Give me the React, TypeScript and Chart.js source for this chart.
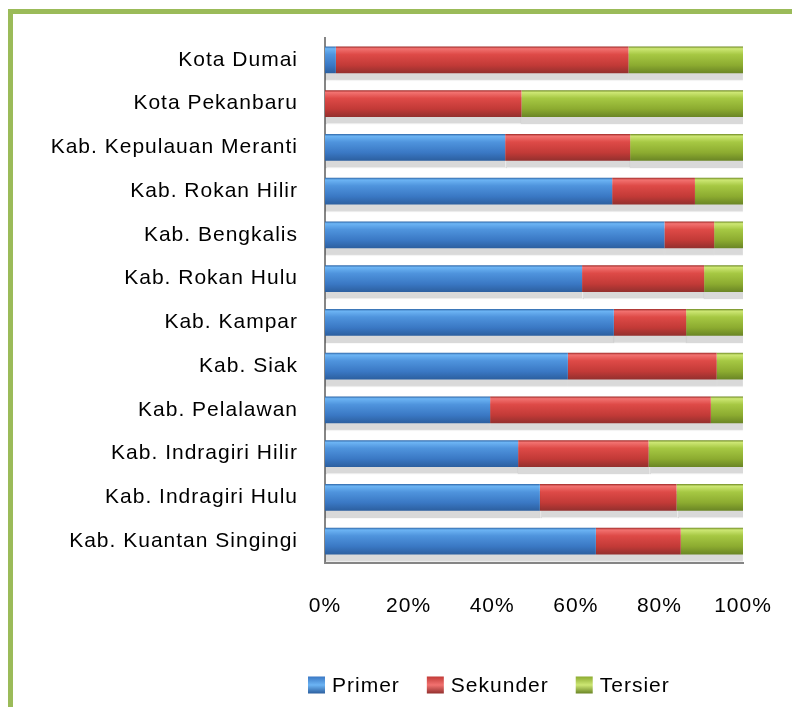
import React, { useEffect, useRef } from 'react';
import { Chart, registerables } from 'chart.js';

Chart.register(...registerables);

const REGIONS = [
  'Kota Dumai',
  'Kota Pekanbaru',
  'Kab. Kepulauan Meranti',
  'Kab. Rokan Hilir',
  'Kab. Bengkalis',
  'Kab. Rokan Hulu',
  'Kab. Kampar',
  'Kab. Siak',
  'Kab. Pelalawan',
  'Kab. Indragiri Hilir',
  'Kab. Indragiri Hulu',
  'Kab. Kuantan Singingi',
];

const PRIMER = [2.6, 0, 43.1, 68.7, 81.2, 61.5, 69.1, 58.1, 39.5, 46.2, 51.4, 64.8];
const SEKUNDER = [70.0, 47.0, 29.9, 19.8, 11.9, 29.2, 17.3, 35.6, 52.8, 31.2, 32.7, 20.3];
const TERSIER = [27.4, 53.0, 27.0, 11.5, 6.9, 9.3, 13.6, 6.3, 7.7, 22.6, 15.9, 14.9];

const SERIES_NAMES = ['Primer', 'Sekunder', 'Tersier'];
const X_TICKS = [0, 20, 40, 60, 80, 100];

const FONT = "'Liberation Sans', Arial, sans-serif";
const FONT_SIZE = 21;
const BAR_PCT = 0.61;
const SPACING = '1px';

const PALETTES: string[][] = [
  ['#2f67a8', '#6cb4f4', '#4f94dd', '#3a78c4', '#2c5f9f'],
  ['#9e2a28', '#f27270', '#de4a47', '#c23a37', '#93302e'],
  ['#6f8a24', '#cde774', '#a6c843', '#8cab30', '#6a8525'],
];

function makeFill(p: string[]) {
  return (c: any) => {
    const chart = c.chart;
    const ys = chart.scales && chart.scales.y;
    if (!ys || c.dataIndex === undefined || !chart.chartArea) return p[2];
    const center = ys.getPixelForValue(c.dataIndex);
    const h = (ys.height / REGIONS.length) * BAR_PCT;
    const top = center - h / 2;
    const g = chart.ctx.createLinearGradient(0, top, 0, top + h);
    g.addColorStop(0, p[0]);
    g.addColorStop(0.08, p[1]);
    g.addColorStop(0.3, p[2]);
    g.addColorStop(0.7, p[3]);
    g.addColorStop(1, p[4]);
    return g;
  };
}

const spacingPlugin = {
  id: 'spacing',
  beforeUpdate(chart: any) {
    chart.ctx.letterSpacing = SPACING;
  },
  beforeDraw(chart: any) {
    chart.ctx.letterSpacing = SPACING;
  },
};

const shadowPlugin = {
  id: 'barShadow',
  beforeDatasetsDraw(chart: any) {
    const ctx = chart.ctx;
    ctx.save();
    ctx.shadowColor = 'rgba(0,0,0,0.15)';
    ctx.shadowOffsetY = 7;
    ctx.shadowBlur = 1;
  },
  afterDatasetsDraw(chart: any) {
    chart.ctx.restore();
  },
};

const legendPlugin = {
  id: 'customLegend',
  afterDraw(chart: any) {
    const ctx = chart.ctx;
    ctx.save();
    ctx.letterSpacing = SPACING;
    ctx.font = `${FONT_SIZE}px ${FONT}`;
    ctx.textBaseline = 'middle';
    ctx.textAlign = 'left';
    const cy = 685;
    let x = 308;
    chart.data.datasets.forEach((ds: any, i: number) => {
      const p = PALETTES[i];
      const s = 17;
      const g = ctx.createLinearGradient(0, cy - s / 2, 0, cy + s / 2);
      g.addColorStop(0, p[3]);
      g.addColorStop(0.5, p[1]);
      g.addColorStop(1, p[4]);
      ctx.fillStyle = g;
      ctx.fillRect(x, cy - s / 2, s, s);
      ctx.fillStyle = '#000';
      ctx.fillText(ds.label, x + 24, cy + 1);
      x += 24 + ctx.measureText(ds.label).width + 27;
    });
    ctx.restore();
  },
};

export default function App() {
  const ref = useRef<HTMLCanvasElement | null>(null);

  useEffect(() => {
    if (!ref.current) return;
    const values = [PRIMER, SEKUNDER, TERSIER];
    const chart = new Chart(ref.current, {
      type: 'bar',
      data: {
        labels: REGIONS,
        datasets: SERIES_NAMES.map((name, i) => ({
          label: name,
          data: values[i],
          backgroundColor: makeFill(PALETTES[i]),
          borderWidth: 0,
          barPercentage: BAR_PCT,
          categoryPercentage: 1,
        })),
      },
      options: {
        indexAxis: 'y',
        animation: false,
        responsive: false,
        maintainAspectRatio: false,
        devicePixelRatio: 1,
        layout: { padding: { top: 38, right: 49, left: 0, bottom: 0 } },
        plugins: {
          legend: { display: false },
          tooltip: { enabled: false },
        },
        scales: {
          x: {
            stacked: true,
            min: 0,
            max: 100,
            afterBuildTicks: (s: any) => {
              s.ticks = X_TICKS.map((v) => ({ value: v }));
            },
            afterFit: (s: any) => {
              s.height = 144;
              s.paddingLeft = 0;
              s.paddingRight = 0;
            },
            grid: { display: false, drawTicks: false },
            border: { display: true, color: '#858585', width: 2 },
            ticks: {
              padding: 31,
              color: '#000',
              font: { family: FONT, size: FONT_SIZE },
              callback: (v: any) => `${v}%`,
              maxRotation: 0,
              autoSkip: false,
            },
          },
          y: {
            stacked: true,
            afterFit: (s: any) => {
              s.width = 325;
              s.paddingTop = 0;
              s.paddingBottom = 0;
            },
            grid: { display: false, drawTicks: false },
            border: { display: true, color: '#858585', width: 2 },
            ticks: {
              padding: 27,
              color: '#000',
              font: { family: FONT, size: FONT_SIZE },
              autoSkip: false,
            },
          },
        },
      },
      plugins: [spacingPlugin, shadowPlugin, legendPlugin],
    });
    return () => chart.destroy();
  }, []);

  return (
    <div
      style={{
        position: 'absolute',
        left: 0,
        top: 0,
        width: 792,
        height: 707,
        overflow: 'hidden',
        background: '#fff',
      }}
    >
      <div
        style={{
          position: 'absolute',
          left: 8,
          top: 9,
          width: 900,
          height: 900,
          borderLeft: '5px solid #9bbb59',
          borderTop: '5px solid #9bbb59',
        }}
      />
      <canvas
        ref={ref}
        width={792}
        height={707}
        style={{ position: 'absolute', left: 0, top: 0, width: 792, height: 707 }}
      />
    </div>
  );
}
